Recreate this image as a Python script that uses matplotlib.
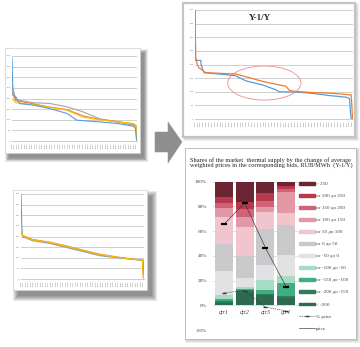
import numpy as np
import matplotlib
matplotlib.use("Agg")
import matplotlib.pyplot as plt
from matplotlib.patches import Rectangle, Polygon, Patch, Ellipse
from matplotlib.lines import Line2D

W, H = 360, 347  # figure size in pixels (dpi 100)

# ---- top-left slide chart: sorted bid curves (x = % of ranked volume)
tl_blue_x = [0, 0.8, 3, 6, 17, 30, 44, 52, 70, 84, 97, 99, 100]
tl_blue_y = [390, 215, 208, 176, 169, 153, 130, 98, 90, 83, 70, 60, 5]
tl_x = [0, 3, 17, 30, 44, 57, 70, 84, 97, 99.5, 100]
tl_gray_y = [265, 195, 180, 177, 161, 137, 105, 90, 75, 70, 10]
tl_orange_y = [230, 190, 175, 160, 148, 118, 102, 92, 80, 72, 0]
tl_yellow_y = [200, 180, 172, 158, 145, 112, 100, 90, 83, 75, 0]

# ---- bottom-left slide chart
bl_x = [0, 0.7, 1.3, 9.5, 23, 37, 50, 64, 78, 91, 99, 99.6, 100]
bl_blue_y = [400, 240, 199, 183, 171, 152, 133, 113, 102, 93, 89, 89, 0]
bl_gray_y = [240, 215, 200, 180, 168, 148, 130, 110, 100, 92, 88, 40, 0]
bl_orange_y = [250, 220, 205, 186, 174, 156, 137, 117, 104, 94, 90, 20, 0]
bl_yellow_y = [245, 215, 202, 184, 172, 154, 135, 115, 103, 93, 89, 30, 0]

# ---- top-right chart "Y-1/Y"
tr_orange_x = [0, 0.4, 1.5, 2.5, 6.8, 25.9, 32.3, 42.9, 53.5, 57.8, 59.9, 64.1, 74.7, 85.4, 96, 99.2, 100]
tr_orange_y = [430, 224, 199, 188, 170, 165, 155, 138, 125, 120, 105, 101, 97, 95, 90, 88, 0]
tr_blue_x = [0, 0.4, 3.7, 3.8, 5.7, 15.3, 23.8, 25.9, 32.3, 42.9, 51.4, 53.5, 64.1, 74.7, 85.4, 96, 98.1, 98.7, 99.2]
tr_blue_y = [400, 215, 215, 200, 170, 165, 160, 158, 140, 125, 107, 100, 99, 94, 86, 80, 75, 25, 0]

# ---- bottom-right stacked bars (shares, %), bins from bottom to top
qtrs = ["qtr1", "qtr2", "qtr3", "qtr4"]
bin_labels = ["< -200", "от -200 до -150", "от -150 до -100", "от -100 до -50", "от -50 до 0",
              "от 0 до 50", "от 50 до 100", "от 100 до 150", "от 150 до 200", "от 200 до 250", "> 250"]
lt_m200 = [1.9, 10.6, 8.1, 5.9]
m200_m150 = [1.4, 1.4, 1.4, 1.4]
m150_m100 = [1.4, 1.4, 2.7, 10.8]
m100_m50 = [4.0, 1.4, 8.1, 5.9]
m50_0 = [18.9, 7.3, 11.9, 17.0]
p0_50 = [21.6, 17.6, 29.2, 24.3]
p50_100 = [22.4, 23.8, 14.3, 9.5]
p100_150 = [6.8, 7.8, 4.1, 16.8]
p150_200 = [4.0, 6.8, 4.6, 2.7]
p200_250 = [5.4, 5.4, 6.8, 2.2]
gt250 = [12.2, 16.5, 8.9, 3.5]
price = [65.4, 83.0, 46.5, 14.9]
pct_price = [10.0, 11.8, -1.5, -4.5]

bin_values = [lt_m200, m200_m150, m150_m100, m100_m50, m50_0, p0_50,
              p50_100, p100_150, p150_200, p200_250, gt250]
bin_colors = ["#2e6a4f", "#2c7d58", "#3fae80", "#a6dcc6", "#e2e2e4", "#c9c9cb",
              "#f0c5cd", "#e398a6", "#d0627a", "#b8394e", "#6b2431"]

BLUE, ORANGE, GRAY, YELLOW = "#5B9BD5", "#ED7D31", "#A5A5A5", "#FFC000"
SERIF = ["Liberation Serif", "DejaVu Serif"]

fig = plt.figure(figsize=(W / 100, H / 100), dpi=100)
bg = fig.add_axes([0, 0, 1, 1])
bg.set_xlim(0, W)
bg.set_ylim(H, 0)
bg.axis("off")


def shadow(x0, y0, x1, y1, dx, dy, blur, alpha):
    for s in np.linspace(0, blur, 6):
        bg.add_patch(Rectangle((x0 + dx - s, y0 + dy - s), x1 - x0 + 2 * s, y1 - y0 + 2 * s,
                               fc="k", alpha=alpha, lw=0))


def card(x0, y0, x1, y1, ec, lw):
    bg.add_patch(Rectangle((x0, y0), x1 - x0, y1 - y0, fc="white", ec=ec, lw=lw))


def px_axes(x0, y0, x1, y1):
    return fig.add_axes([x0 / W, 1 - y1 / H, (x1 - x0) / W, (y1 - y0) / H])


# cards with drop shadows
shadow(5, 48, 140, 153, 4, 5, 4, 0.085)
card(5, 48, 140, 153, "#d0d0d0", 0.5)
shadow(13, 190, 147, 290, 5, 6, 5, 0.085)
card(13, 190, 147, 290, "#d0d0d0", 0.5)
shadow(183, 3, 355, 137, 2, 2, 2, 0.03)
card(183, 3, 355, 137, "#c4c4c4", 1.6)
shadow(185, 148, 356, 339, 2, 2, 2, 0.03)
card(185, 148, 356, 339, "#bdbdbd", 0.7)

# big gray arrow
bg.add_patch(Polygon([(155, 132), (168, 132), (168, 122), (182, 142), (168, 163), (168, 152), (155, 152)],
                     closed=True, fc="#8e8e8e", ec="#9a9a9a", lw=0.4))


def style_line_ax(ax, n_cat, fs):
    ax.set_facecolor("none")
    ax.set_xlim(0, 100.3)
    ax.set_ylim(0, 400)
    ax.set_yticks(range(0, 401, 50))
    ax.set_axisbelow(True)
    ax.grid(axis="y", color="#c8c8c8", lw=0.6)
    for side in ["top", "right", "left"]:
        ax.spines[side].set_visible(False)
    ax.spines["bottom"].set_color("#c4c4c4")
    ax.spines["bottom"].set_linewidth(0.6)
    ax.set_xticks(np.linspace(0, 100, n_cat))
    ax.set_xticklabels([str(1000 + 7 * i) for i in range(n_cat)], rotation=90)
    ax.tick_params(length=0, labelsize=fs, colors="#7a7a7a", pad=1)


# top-left
ax1 = px_axes(12, 56, 137, 141)
style_line_ax(ax1, 50, 1.5)
ax1.plot(tl_x, tl_gray_y, color=GRAY, lw=0.8)
ax1.plot(tl_x, tl_orange_y, color=ORANGE, lw=0.8)
ax1.plot(tl_x, tl_yellow_y, color=YELLOW, lw=0.8)
ax1.plot(tl_blue_x, tl_blue_y, color=BLUE, lw=0.8)

# bottom-left
ax2 = px_axes(21, 194, 144, 279)
style_line_ax(ax2, 50, 1.5)
ax2.plot(bl_x, bl_gray_y, color=GRAY, lw=0.8)
ax2.plot(bl_x, bl_blue_y, color=BLUE, lw=0.8)
ax2.plot(bl_x, bl_orange_y, color=ORANGE, lw=0.8)
ax2.plot(bl_x, bl_yellow_y, color=YELLOW, lw=0.8)

# top-right
ax3 = px_axes(195, 10, 353, 119)
style_line_ax(ax3, 56, 1.6)
ax3.plot(tr_blue_x, tr_blue_y, color=BLUE, lw=0.9)
ax3.plot(tr_orange_x, tr_orange_y, color=ORANGE, lw=0.9)
ax3.add_patch(Ellipse((44, 132), 46.5, 125, fill=False, ec="#f29a9a", lw=0.7))
fig.text(260 / W, 1 - 18 / H, "Y-1/Y", ha="center", va="center", fontsize=6.5,
         fontweight="bold", family=SERIF, color="#222222")

# bottom-right stacked bars
ax4 = px_axes(212.5, 181.7, 297.6, 330)
ax4.set_facecolor("none")
x = np.arange(len(qtrs))
bottom = np.zeros(len(qtrs))
for vals, col, lab in zip(bin_values, bin_colors, bin_labels):
    ax4.bar(x, vals, 0.87, bottom=bottom, color=col, label=lab, zorder=2)
    bottom += np.array(vals)
ax4.plot(x, pct_price, color="#333333", lw=0.45, ls=(0, (2, 1.5)), marker="_", ms=3, mew=1.0, zorder=3)
ax4.plot(x, price, color="#333333", lw=0.45, marker="_", ms=4.5, mew=1.6, mec="k", zorder=3)
ax4.set_xlim(-0.55, 3.55)
ax4.set_ylim(-20, 100)
ax4.set_yticks(range(-20, 101, 20))
ax4.set_yticklabels([f"{v}%" for v in range(-20, 101, 20)], family=SERIF)
ax4.set_xticks([])
ax4.grid(axis="y", color="#d0d0d0", lw=0.5, zorder=0)
ax4.set_axisbelow(True)
for s in ax4.spines.values():
    s.set_visible(False)
ax4.tick_params(length=0, labelsize=3.7, colors="#404040", pad=4)
for i, q in enumerate(qtrs):
    ax4.text(i, -3.5, q, ha="center", va="top", fontsize=4.2, style="italic",
             family=SERIF, color="#404040")

handles = [Patch(color=c, label=l) for c, l in zip(bin_colors[::-1], bin_labels[::-1])]
handles.append(Line2D([], [], color="#333333", lw=0.45, ls=(0, (2, 1.5)), marker="_", ms=3, mew=1.0,
                      label="% price"))
handles.append(Line2D([], [], color="#333333", lw=0.45, label="price"))
ax4.legend(handles=handles, loc="upper left", bbox_to_anchor=(299 / W, 1 - 182 / H),
           bbox_transform=fig.transFigure, frameon=False, prop={"family": SERIF, "size": 3.6},
           labelcolor="#404040", handlelength=3.1, handleheight=0.4, handletextpad=0.35,
           labelspacing=1.6, borderpad=0, borderaxespad=0)

fig.text(190 / W, 1 - 157 / H,
         "Shares of the market  thermal supply by the change of average\n"
         "weighted prices in the corresponding bids, RUB/MWh  (Y-1/Y)",
         ha="left", va="top", fontsize=4.6, family=SERIF, color="#222222", linespacing=1.0)

fig.savefig("out.png", dpi=100)
